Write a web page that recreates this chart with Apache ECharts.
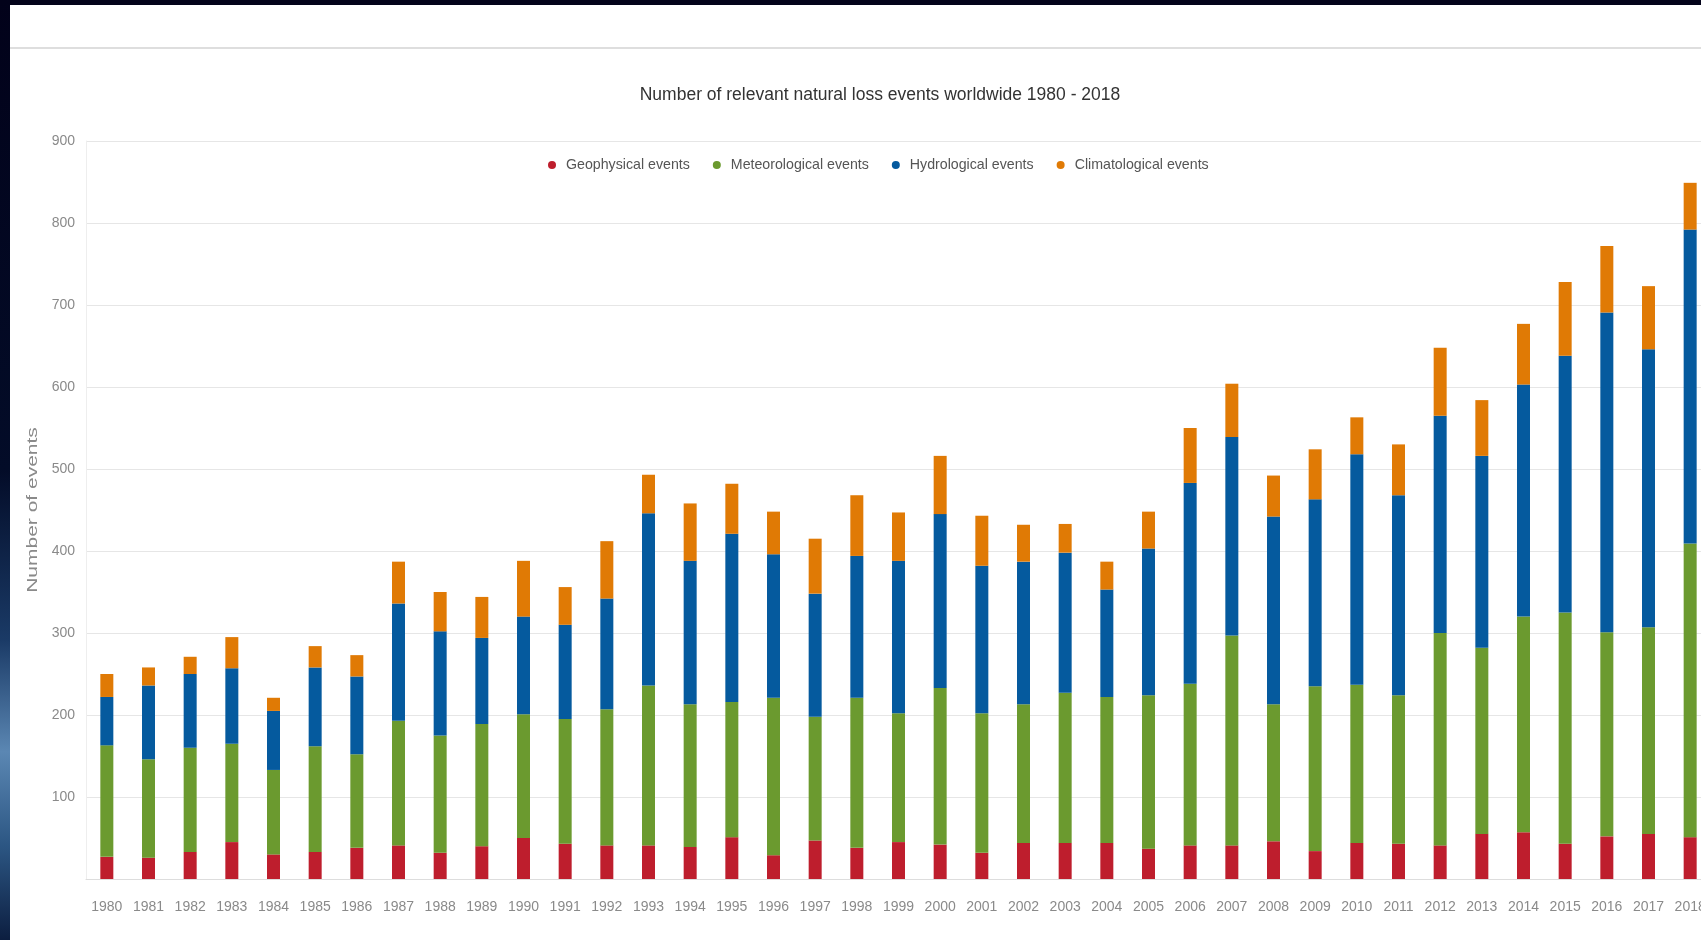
<!DOCTYPE html>
<html>
<head>
<meta charset="utf-8">
<script src="https://cdn.jsdelivr.net/npm/echarts@6/dist/echarts.min.js"></script>
<style>
html,body{margin:0;padding:0;background:#fff;}
#c{width:1701px;height:940px;}
</style>
</head>
<body>
<div id="c"></div>
<script>
const years = ['1980','1981','1982','1983','1984','1985','1986','1987','1988','1989','1990','1991','1992','1993','1994','1995','1996','1997','1998','1999','2000','2001','2002','2003','2004','2005','2006','2007','2008','2009','2010','2011','2012','2013','2014','2015','2016','2017','2018'];
const geophysical = [27,26,33,45,30,33,38,41,32,40,50,43,41,41,39,51,29,47,38,45,42,32,44,44,44,37,41,41,46,34,44,43,41,55,57,43,52,55,51];
const meteorological = [136,120,127,120,103,129,114,152,143,149,151,152,166,195,174,165,192,151,183,157,191,170,169,183,178,187,197,256,167,201,193,181,259,227,263,282,249,252,358];
const hydrological = [59,90,90,92,72,96,95,143,127,105,119,115,135,210,175,205,175,150,173,186,212,180,174,171,131,179,245,242,229,228,281,244,265,234,283,313,390,339,383];
const climatological = [28,22,21,38,16,26,26,51,48,50,68,46,70,47,70,61,52,67,74,59,71,61,45,35,34,45,67,65,50,61,45,62,83,68,74,90,81,77,57];
const yTicks = [0,100,200,300,400,500,600,700,800,900];

const font = '"Liberation Sans", Arial, Helvetica, sans-serif';
const chart = echarts.init(document.getElementById('c'));
const mk = (name, data, color) => ({
  name, type: 'bar', stack: 'total', data, barWidth: 13,
  itemStyle: { color }, emphasis: { disabled: true }
});
chart.setOption({
  animation: false,
  backgroundColor: '#ffffff',
  textStyle: { fontFamily: font },
  title: {
    text: 'Number of relevant natural loss events worldwide 1980 - 2018',
    left: 875, top: 81, textAlign: 'center',
    textStyle: { fontFamily: font, fontSize: 17.5, fontWeight: 'normal', color: '#333333' }
  },
  legend: {
    left: 543, top: 153, itemWidth: 8, itemHeight: 8, itemGap: 23, icon: 'circle',
    textStyle: { fontFamily: font, fontSize: 14.2, color: '#555555', padding: [0,0,0,5] },
    data: ['Geophysical events','Meteorological events','Hydrological events','Climatological events']
  },
  grid: { left: 86, width: 1625, top: 141, height: 738, containLabel: false, outerBoundsMode: 'none' },
  xAxis: {
    type: 'category', data: years,
    axisLine: { lineStyle: { color: '#dddddd', width: 1 } },
    axisTick: { show: false },
    axisLabel: { fontFamily: font, fontSize: 14, color: '#8a8a8a', margin: 21, interval: 0 }
  },
  yAxis: {
    type: 'value', min: yTicks[0], max: yTicks[yTicks.length-1], interval: 100,
    axisLine: { show: true, lineStyle: { color: '#eeeeee' } },
    axisTick: { show: false },
    splitLine: { lineStyle: { color: '#e6e6e6' } },
    axisLabel: { fontFamily: font, fontSize: 14, color: '#8a8a8a', margin: 11, showMinLabel: false }
  },
  graphic: [
    { type: 'rect', shape: { x: 0, y: 0, width: 1701, height: 5 }, style: { fill: '#03031a' }, z: 100 },
    { type: 'rect', shape: { x: 0, y: 0, width: 10, height: 940 }, z: 100,
      style: { fill: new echarts.graphic.LinearGradient(0,0,0,1,[
        {offset:0,color:'#02021a'},{offset:0.5,color:'#030c28'},{offset:0.68,color:'#1a3a66'},
        {offset:0.8,color:'#5b87b3'},{offset:0.9,color:'#2c5683'},{offset:1,color:'#0c1e40'}]) } },
    { type: 'rect', shape: { x: 10, y: 47, width: 1691, height: 2 }, style: { fill: '#dedede' }, z: 50 },
    { type: 'text', x: 33, y: 510, rotation: Math.PI/2, scaleX: 1.4, z: 50,
      style: { text: 'Number of events', font: '15px "Liberation Sans", Arial, sans-serif', fill: '#8a8a8a', align: 'center', verticalAlign: 'middle' } }
  ],
  series: [
    mk('Geophysical events', geophysical, '#be1e2d'),
    mk('Meteorological events', meteorological, '#6b9a2f'),
    mk('Hydrological events', hydrological, '#055a9e'),
    mk('Climatological events', climatological, '#e07a05')
  ]
});
</script>
</body>
</html>
